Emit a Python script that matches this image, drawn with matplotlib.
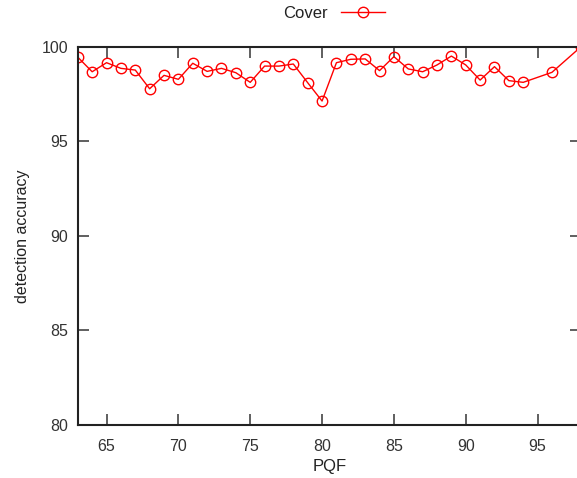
import matplotlib
matplotlib.use("Agg")
import matplotlib.pyplot as plt
from matplotlib.ticker import FixedLocator

plt.rcParams['font.family'] = ['Liberation Sans', 'DejaVu Sans']

# PQF values and detection accuracy for the cover images
pqf = [63, 64, 65, 66, 67, 68, 69, 70, 71, 72, 73, 74, 75, 76, 77, 78, 79, 80,
       81, 82, 83, 84, 85, 86, 87, 88, 89, 90, 91, 92, 93, 94, 96, 98]
cover = [99.46, 98.69, 99.17, 98.87, 98.78, 97.79, 98.50, 98.29, 99.14, 98.71,
         98.87, 98.64, 98.13, 98.99, 98.99, 99.10, 98.11, 97.14, 99.17, 99.35,
         99.37, 98.75, 99.49, 98.84, 98.69, 99.05, 99.52, 99.05, 98.25, 98.96,
         98.22, 98.13, 98.66, 100.0]

x_ticks = [65, 70, 75, 80, 85, 90, 95]
y_ticks = [80, 85, 90, 95, 100]

W, H = 577, 478
fig = plt.figure(figsize=(W / 100, H / 100), dpi=100)
ax = fig.add_axes([77.8 / W, 1 - 425 / H, (580.7 - 77.8) / W, (425 - 47) / H])

ax.plot(pqf, cover, color='#ff0000', linewidth=1.0, marker='o',
        markersize=7.5, markerfacecolor='none', markeredgecolor='#ff0000',
        markeredgewidth=1.0, label='Cover', clip_on=True)

ax.set_xlim(63, 98)
ax.set_ylim(80, 100)
ax.xaxis.set_major_locator(FixedLocator(x_ticks))
ax.yaxis.set_major_locator(FixedLocator(y_ticks))

for s in ax.spines.values():
    s.set_linewidth(1.5)
    s.set_color('#222222')

ax.tick_params(axis='both', which='major', direction='in', length=8,
               width=1.2, color='#444444', labelsize=11.5, labelcolor='#333333',
               top=True, right=True)
ax.tick_params(axis='x', pad=10)
ax.tick_params(axis='y', pad=7)

ax.set_xlabel('PQF', fontsize=12, color='#222222', labelpad=4)
ax.set_ylabel('detection accuracy', fontsize=11.5, color='#222222', labelpad=8)

leg = fig.legend(loc='center', bbox_to_anchor=(334 / W, 1 - 13 / H),
                 frameon=False, markerfirst=False, fontsize=12,
                 handlelength=2.6, handletextpad=0.8)
for t in leg.get_texts():
    t.set_color('#222222')

fig.savefig('out.png', dpi=100)
